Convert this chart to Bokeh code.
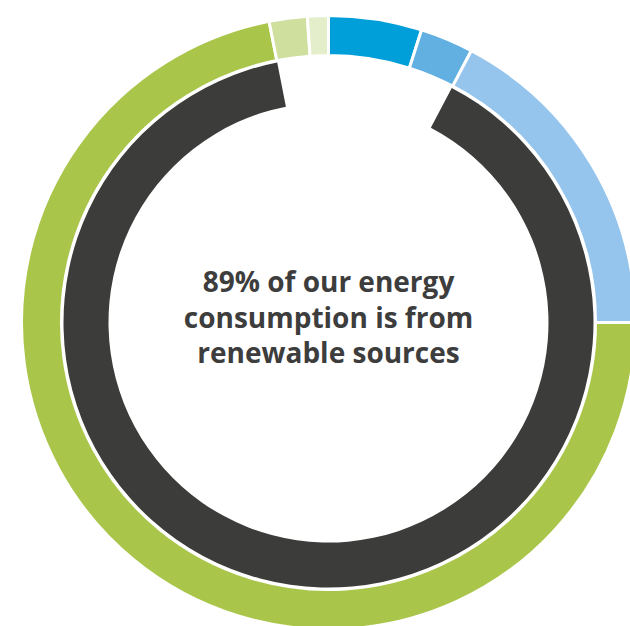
import math
from bokeh.plotting import figure
from bokeh.models import Range1d, ColumnDataSource
from bokeh.core.properties import value
from bokeh.embed import file_html
from bokeh.resources import INLINE

# ---- data ----
outer_labels = ["Blue", "Mid blue", "Light blue", "Green", "Light green", "Pale green"]
outer_values = [4.9, 2.8, 17.3, 71.9, 2.0, 1.1]
outer_colors = ["#009fd9", "#62b0e2", "#95c4ec", "#a9c64a", "#cfdf9e", "#e4eecb"]

renewable_share = 89.2          # inner dark ring (% of total)
renewable_offset = 4.9 + 2.8    # where the inner ring starts (% from top)
inner_color = "#3c3c3a"

center_lines = ["89% of our energy", "consumption is from", "renewable sources"]

# ---- geometry ----
R_OUT, R_OUT_IN = 307, 267
R_IN_OUT, R_IN_IN = 265, 220

def to_angle(pct):
    return math.pi / 2 - pct / 100.0 * 2 * math.pi

starts, ends = [], []
cum = 0.0
total = sum(outer_values)
for v in outer_values:
    s = cum / total * 100
    cum += v
    e = cum / total * 100
    starts.append(to_angle(s))
    ends.append(to_angle(e))

src = ColumnDataSource(dict(x=[0] * len(outer_values), y=[0] * len(outer_values),
                            start=starts, end=ends, color=outer_colors, label=outer_labels))

W, H = 630, 626
p = figure(width=W, height=H, output_backend="svg", toolbar_location=None,
           x_range=Range1d(-328, -328 + W), y_range=Range1d(322 - H, 322),
           min_border=0, outline_line_color=None)
p.axis.visible = False
p.grid.visible = False
p.background_fill_color = "white"
p.border_fill_color = "white"

p.annular_wedge(x="x", y="y", inner_radius=R_OUT_IN, outer_radius=R_OUT,
                start_angle="start", end_angle="end", direction="clock",
                fill_color="color", line_color="white", line_width=3, source=src)

p.annular_wedge(x=[0], y=[0], inner_radius=R_IN_IN, outer_radius=R_IN_OUT,
                start_angle=[to_angle(renewable_offset)],
                end_angle=[to_angle(renewable_offset + renewable_share)],
                direction="clock", fill_color=inner_color, line_color=None)

p.text(x=[0, 0, 0], y=[42, 6, -29], text=center_lines,
       text_align="center", text_baseline="alphabetic",
       text_font=value("Open Sans"), text_font_style="bold",
       text_font_size="28px", text_color="#3d3d3d")

open("out.html", "w").write(file_html(p, INLINE))
